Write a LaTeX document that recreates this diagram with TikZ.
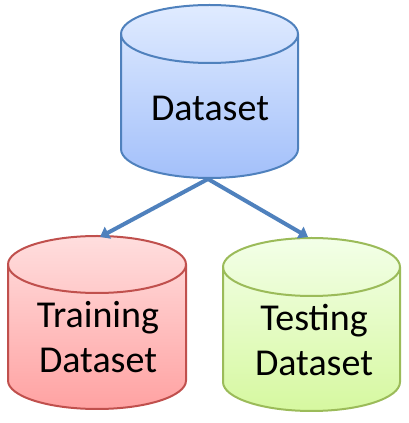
\documentclass[tikz,border=0pt]{standalone}
\usepackage{fontspec}
\setmainfont{Carlito}
\usetikzlibrary{arrows.meta}
\definecolor{blueline}{HTML}{4F81BD}
\definecolor{bluetop}{HTML}{E0EBFF}
\definecolor{bluebot}{HTML}{A3C0FA}
\definecolor{redline}{HTML}{C0504D}
\definecolor{redtop}{HTML}{FFDEDE}
\definecolor{redbot}{HTML}{FFA2A2}
\definecolor{greenline}{HTML}{9BBB59}
\definecolor{greentop}{HTML}{F3FFE8}
\definecolor{greenbot}{HTML}{D6F8A0}
% cylinder: #1 centre x, #2 cap centre y, #3 bottom centre y, #4 x radius, #5 y radius, #6 outline, #7 top colour, #8 bottom colour
\newcommand\dbcylinder[8]{%
  \shade[top color=#7,bottom color=#8]
    (#1-#4,#2) -- (#1-#4,#3) arc[start angle=180,end angle=360,x radius=#4,y radius=#5]
    -- (#1+#4,#2) arc[start angle=0,end angle=180,x radius=#4,y radius=#5] -- cycle;
  \draw[#6,line width=2pt,line join=round]
    (#1-#4,#2) -- (#1-#4,#3) arc[start angle=180,end angle=360,x radius=#4,y radius=#5]
    -- (#1+#4,#2) arc[start angle=0,end angle=180,x radius=#4,y radius=#5] -- cycle;
  \draw[#6,line width=2pt]
    (#1-#4,#2) arc[start angle=180,end angle=360,x radius=#4,y radius=#5];
}
\tikzset{
  label/.style={font=\fontsize{38}{45}\selectfont,align=center,inner sep=0pt},
  flow/.style={blueline,line width=4pt,-{Triangle[length=9pt,width=13pt]}}
}
\begin{document}
\begin{tikzpicture}[x=1pt,y=1pt]
\useasboundingbox (0,0) rectangle (408,423);
% source dataset
\dbcylinder{209.5}{389}{274}{88.5}{29}{blueline}{bluetop}{bluebot}
% training split
\dbcylinder{97}{158.5}{42.5}{89}{28.5}{redline}{redtop}{redbot}
% testing split
\dbcylinder{311.5}{156}{41}{88.5}{29}{greenline}{greentop}{greenbot}

\node[label] (ds) at (210,315) {Dataset};
\node[label] (train) at (98,86) {Training\\Dataset};
\node[label] (test) at (314,83) {Testing\\Dataset};

\coordinate (dsbot) at (208,244);
\coordinate (traintop) at (100,186);
\coordinate (testtop) at (308,186);
\draw[flow] (dsbot) -- (traintop);
\draw[flow] (dsbot) -- (testtop);
\end{tikzpicture}
\end{document}
